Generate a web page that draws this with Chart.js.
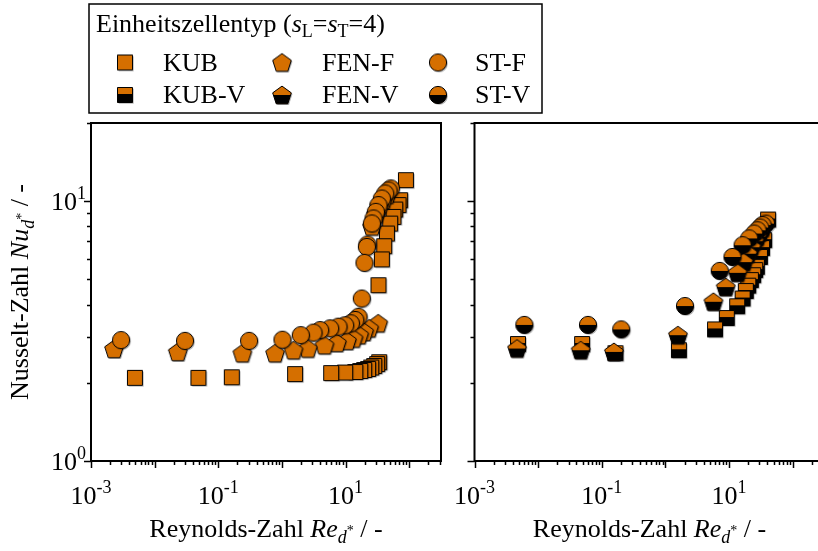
<!DOCTYPE html>
<html>
<head>
<meta charset="utf-8">
<script src="https://cdn.jsdelivr.net/npm/chart.js@4.4.1/dist/chart.umd.min.js"></script>
<style>
html, body { margin: 0; padding: 0; background: #fff; overflow: hidden; }
#wrap { position: relative; width: 818px; height: 551px; overflow: hidden; }
canvas { position: absolute; top: 0; left: 0; }
</style>
</head>
<body>
<div id="wrap">
  <canvas id="c-left" width="818" height="551"></canvas>
  <canvas id="c-right" width="840" height="551"></canvas>
</div>
<script>
// --- data (Re_d*, Nu_d*) ---
const kubRe = [0.0049, 0.0487, 0.163, 1.61, 5.94, 9.86, 14.2, 17.0, 19.6, 22.6, 25.3, 28.2, 31.4, 33.8, 32.9, 37.2, 40.5, 44.6, 50.2, 56.6, 60.3, 67.9, 72.1, 88.7];
const kubNu = [2.09, 2.09, 2.10, 2.16, 2.18, 2.19, 2.20, 2.22, 2.24, 2.26, 2.29, 2.32, 2.36, 2.40, 4.75, 5.97, 6.71, 7.51, 8.2, 8.7, 9.29, 9.66, 10.09, 12.05];

const fenFRe = [0.0023, 0.0231, 0.239, 0.78, 1.52, 2.55, 4.66, 7.29, 10.5, 13.3, 16.4, 19.6, 23.5, 32.6, 26, 30, 34, 39, 44.6];
const fenFNu = [2.70, 2.63, 2.60, 2.60, 2.67, 2.71, 2.79, 2.85, 2.90, 2.96, 3.05, 3.14, 3.24, 3.39, 8.0, 8.9, 9.6, 10.1, 10.6];

const stFRe = [0.00297, 0.030, 0.305, 1.02, 1.98, 3.13, 3.99, 5.73, 7.73, 9.86, 12.1, 14.2, 16.0, 18.0, 19.8, 21.6, 22.1, 25.9, 27.5, 29.9, 32.9, 37.2, 42.0, 47.3, 51.5];
const stFNu = [2.92, 2.90, 2.90, 2.93, 3.05, 3.12, 3.19, 3.24, 3.29, 3.33, 3.39, 3.49, 3.59, 4.22, 5.79, 6.67, 6.81, 8.21, 8.58, 9.1, 9.66, 10.24, 10.71, 11.0, 11.2];

const kubVRe = [0.00482, 0.049, 0.164, 1.63, 6.02, 9.2, 13.4, 16.3, 18.3, 20.0, 22.0, 23.9, 25.7, 27.3, 30.5, 33.0, 35.6, 41.1];
const kubVNu = [2.82, 2.82, 2.60, 2.67, 3.21, 3.55, 3.94, 4.22, 4.51, 4.73, 4.97, 5.19, 5.43, 5.59, 6.1, 6.6, 7.08, 8.5];

const fenVRe = [0.00466, 0.0467, 0.155, 1.57, 5.68, 8.87, 13.6, 16.9, 19.7, 22.4, 25.0, 27.7, 30.5, 33.5];
const fenVNu = [2.71, 2.67, 2.63, 3.05, 4.10, 4.67, 5.30, 5.83, 6.28, 6.65, 7.02, 7.3, 7.6, 7.9];

const stVRe = [0.00607, 0.0607, 0.202, 2.03, 7.14, 11.3, 16.3, 20.7, 24.8, 28.0, 30.8, 33.6, 38.0];
const stVNu = [3.34, 3.34, 3.21, 3.95, 5.39, 6.10, 6.77, 7.19, 7.51, 7.73, 7.92, 8.09, 8.2];

const legendLabels = ["KUB", "FEN-F", "ST-F", "KUB-V", "FEN-V", "ST-V"];
const xTickExp = [-3, -1, 1];
const yTickExp = [0, 1];
const xMin = 0.001, xMax = 316, yMin = 1, yMax = 20;

const ORANGE = "#d56f00";
const FONT = "'Liberation Serif', 'Times New Roman', serif";
const FS = 26, SUB = 18;

function font(size, italic) { return (italic ? "italic " : "") + size + "px " + FONT; }

// rich text: runs of {t, s, i, dy}
function drawRich(ctx, runs, x, y, align) {
    let w = 0;
    runs.forEach(r => { ctx.font = font(r.s, r.i); w += ctx.measureText(r.t).width; });
    let cx = align === "center" ? x - w / 2 : align === "right" ? x - w : x;
    ctx.textAlign = "left";
    ctx.textBaseline = "alphabetic";
    ctx.fillStyle = "#000";
    runs.forEach(r => {
        ctx.font = font(r.s, r.i);
        ctx.fillText(r.t, cx, y + (r.dy || 0));
        cx += ctx.measureText(r.t).width;
    });
}

function makeMarker(shape, half) {
    const S = 26, m = S / 2;
    const c = document.createElement("canvas");
    c.width = c.height = S;
    const g = c.getContext("2d");
    const path = () => {
        g.beginPath();
        if (shape === "sq") g.rect(m - 7.5, m - 7.5, 15, 15);
        else if (shape === "ci") g.arc(m, m, 8.6, 0, Math.PI * 2);
        else {
            const R = 9.8, cy = m + 0.9;
            for (let k = 0; k < 5; k++) {
                const a = -Math.PI / 2 + k * 2 * Math.PI / 5;
                const px = m + R * Math.cos(a), py = cy + R * Math.sin(a);
                k ? g.lineTo(px, py) : g.moveTo(px, py);
            }
            g.closePath();
        }
    };
    g.save(); g.translate(1.2, 1.2); path(); g.fillStyle = "rgba(0,0,0,0.3)"; g.fill(); g.restore();
    path(); g.fillStyle = ORANGE; g.fill();
    if (half) {
        g.save(); path(); g.clip();
        g.fillStyle = "#000";
        g.fillRect(0, shape === "sq" ? m - 1 : m, S, S);
        g.restore();
    }
    path(); g.lineWidth = 1; g.strokeStyle = "#000"; g.stroke();
    return c;
}

const markers = {
    kub: makeMarker("sq", false), fenF: makeMarker("pe", false), stF: makeMarker("ci", false),
    kubV: makeMarker("sq", true), fenV: makeMarker("pe", true), stV: makeMarker("ci", true)
};

// measurement order runs from high to low Re, so earlier points end up on top
function pts(re, nu) { return re.map((r, i) => ({ x: r, y: nu[i] })).reverse(); }

function ds(label, re, nu, img, order) {
    return { label, data: pts(re, nu), pointStyle: img, pointRadius: 8, order, showLine: false };
}

function expLabel(e) { return [{ t: "10", s: FS }, { t: String(e), s: SUB, dy: -11 }]; }

function titleRuns(sym) {
    return [{ t: sym[0], s: FS }, { t: sym[1], s: FS, i: true }, { t: "d", s: SUB, i: true, dy: 6 }, { t: "*", s: 14, dy: -2 }, { t: " / -", s: FS }];
}

function drawFrame(chart, labels) {
    const { ctx, chartArea: a, scales: { x, y } } = chart;
    ctx.save();
    ctx.strokeStyle = "#000";
    ctx.lineWidth = 2;
    ctx.strokeRect(a.left, a.top, a.right - a.left, a.bottom - a.top);
    ctx.lineWidth = 1.5;
    ctx.beginPath();
    for (let e = -3; e <= 2; e++) {
        for (let k = 1; k <= 9; k++) {
            const v = k * Math.pow(10, e);
            if (v < xMin || v > xMax) continue;
            const px = Math.round(x.getPixelForValue(v)) + 0.5;
            ctx.moveTo(px, a.bottom);
            ctx.lineTo(px, a.bottom + (k === 1 ? 7 : 4));
        }
    }
    for (let e = 0; e <= 1; e++) {
        for (let k = 1; k <= 9; k++) {
            const v = k * Math.pow(10, e);
            if (v < yMin || v > yMax) continue;
            const py = Math.round(y.getPixelForValue(v)) + 0.5;
            ctx.moveTo(a.left, py);
            ctx.lineTo(a.left - (k === 1 ? 7 : 4), py);
        }
    }
    ctx.stroke();
    xTickExp.forEach(e => drawRich(ctx, expLabel(e), x.getPixelForValue(Math.pow(10, e)), 504, "center"));
    drawRich(ctx, titleRuns(["Reynolds-Zahl ", "Re"]), (a.left + a.right) / 2, 537, "center");
    if (labels) {
        yTickExp.forEach(e => drawRich(ctx, expLabel(e), a.left - 5, y.getPixelForValue(Math.pow(10, e)) + 9, "right"));
        ctx.save();
        ctx.translate(28, (a.top + a.bottom) / 2);
        ctx.rotate(-Math.PI / 2);
        drawRich(ctx, titleRuns(["Nusselt-Zahl ", "Nu"]), 0, 0, "center");
        ctx.restore();
    }
    ctx.restore();
}

function drawLegend(ctx) {
    ctx.save();
    ctx.strokeStyle = "#000";
    ctx.lineWidth = 1.5;
    ctx.strokeRect(89, 4, 453, 109);
    drawRich(ctx, [{ t: "Einheitszellentyp (", s: FS }, { t: "s", s: FS, i: true }, { t: "L", s: SUB, dy: 5 }, { t: "=", s: FS },
        { t: "s", s: FS, i: true }, { t: "T", s: SUB, dy: 5 }, { t: "=4)", s: FS }], 96, 32, "left");
    const imgs = [markers.kub, markers.fenF, markers.stF, markers.kubV, markers.fenV, markers.stV];
    const mx = [125, 282, 438], lx = [163, 322, 475], my = [62.5, 95], ly = [71, 103];
    legendLabels.forEach((lab, i) => {
        const col = i % 3, row = Math.floor(i / 3);
        const im = imgs[i];
        ctx.drawImage(im, mx[col] - im.width / 2, my[row] - im.height / 2);
        drawRich(ctx, [{ t: lab, s: FS }], lx[col], ly[row], "left");
    });
    ctx.restore();
}

function scaleOpts(type, min, max, horiz) {
    return {
        type, min, max, display: true,
        ticks: { display: false }, grid: { display: false }, border: { display: false },
        afterFit: s => { if (horiz) s.height = 0; else s.width = 0; }
    };
}

function makeChart(id, datasets, padding, labels) {
    return new Chart(document.getElementById(id), {
        type: "scatter",
        data: { datasets },
        options: {
            responsive: false, animation: false, devicePixelRatio: 1,
            layout: { padding },
            plugins: { legend: { display: false }, tooltip: { enabled: false } },
            scales: { x: scaleOpts("logarithmic", xMin, xMax, true), y: scaleOpts("logarithmic", yMin, yMax, false) }
        },
        plugins: [{
            id: "frame",
            afterDraw: chart => { drawFrame(chart, labels); if (labels) drawLegend(chart.ctx); }
        }]
    });
}

makeChart("c-left", [
    ds("KUB", kubRe, kubNu, markers.kub, 2),
    ds("FEN-F", fenFRe, fenFNu, markers.fenF, 1),
    ds("ST-F", stFRe, stFNu, markers.stF, 0)
], { left: 91, right: 818 - 441, top: 123, bottom: 551 - 461 }, true);

makeChart("c-right", [
    ds("KUB-V", kubVRe, kubVNu, markers.kubV, 2),
    ds("FEN-V", fenVRe, fenVNu, markers.fenV, 1),
    ds("ST-V", stVRe, stVNu, markers.stV, 0)
], { left: 474.5, right: 840 - 824.5, top: 123, bottom: 551 - 461 }, false);
</script>
</body>
</html>
